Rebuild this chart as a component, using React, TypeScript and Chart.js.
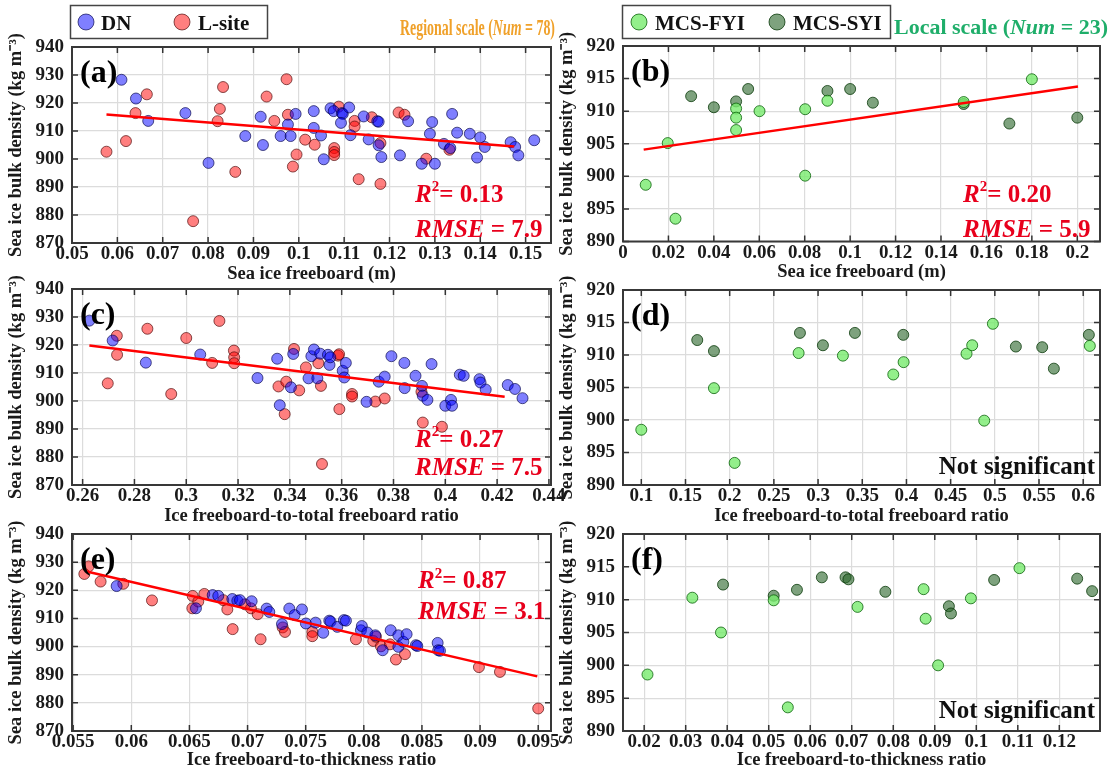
import React, { useEffect, useRef } from 'react';
import { Chart, registerables } from 'chart.js';

Chart.register(...registerables);

const FONT = "'Liberation Serif', 'Times New Roman', serif";

// ---------------- DATA ----------------
// (a) Regional: sea ice freeboard (m) vs density
const aDnX = [0.0609, 0.0641, 0.0668, 0.0750, 0.0801, 0.0882, 0.0916, 0.0921, 0.0960, 0.0976, 0.0982, 0.0993, 0.1033, 0.1033, 0.1049, 0.1055, 0.1070, 0.1077, 0.1095, 0.1097, 0.1093, 0.1111, 0.1114, 0.1143, 0.1154, 0.1173, 0.1176, 0.1176, 0.1182, 0.1223, 0.1241, 0.1271, 0.1289, 0.1294, 0.1300, 0.1320, 0.1334, 0.1338, 0.1349, 0.1377, 0.1393, 0.1400, 0.1410, 0.1467, 0.1477, 0.1484, 0.1519];
const aDnY = [928.3, 921.6, 913.6, 916.4, 898.6, 908.2, 915.1, 905.0, 908.2, 912.3, 908.2, 916.1, 917.1, 911.1, 908.4, 899.9, 918.1, 917.1, 916.4, 916.1, 912.9, 918.4, 908.5, 915.2, 907.0, 913.5, 913.3, 904.9, 900.7, 901.3, 913.5, 898.3, 909.0, 913.2, 898.3, 905.4, 903.9, 916.1, 909.4, 909.0, 900.5, 907.7, 904.3, 906.0, 904.3, 901.3, 906.7];
const aLsX = [0.0576, 0.0619, 0.0640, 0.0665, 0.0767, 0.0821, 0.0826, 0.0833, 0.0860, 0.0929, 0.0946, 0.0973, 0.0976, 0.0987, 0.0995, 0.1014, 0.1035, 0.1078, 0.1078, 0.1078, 0.1088, 0.1123, 0.1123, 0.1132, 0.1161, 0.1180, 0.1180, 0.1220, 0.1233, 0.1281, 0.1332];
const aLsY = [902.6, 906.4, 916.4, 923.1, 877.8, 913.5, 917.9, 925.7, 895.4, 922.3, 913.6, 928.5, 915.8, 897.3, 901.6, 906.9, 905.1, 903.9, 902.5, 901.4, 918.7, 913.6, 911.6, 892.8, 914.9, 905.7, 891.1, 916.6, 915.8, 900.1, 903.3];
const aFitX = [0.0576, 0.1475];
const aFitY = [915.9, 904.5];

// (b) Local: sea ice freeboard (m) vs density
const bFyiX = [0.0100, 0.0197, 0.0231, 0.0498, 0.0498, 0.0498, 0.0601, 0.0802, 0.0802, 0.0900, 0.1500, 0.1800];
const bFyiY = [898.7, 905.1, 893.5, 910.4, 909.0, 907.1, 910.0, 910.3, 900.1, 911.6, 911.4, 914.9];
const bSyiX = [0.0300, 0.0400, 0.0498, 0.0551, 0.0900, 0.1000, 0.1100, 0.1500, 0.1701, 0.2000];
const bSyiY = [912.3, 910.6, 911.5, 913.4, 913.1, 913.4, 911.3, 911.1, 908.1, 909.0];
const bFitX = [0.0091, 0.2003];
const bFitY = [904.1, 913.8];

// (c) Regional: ice freeboard-to-total freeboard ratio vs density
const cDnX = [0.2626, 0.2716, 0.2844, 0.3054, 0.3275, 0.3351, 0.3361, 0.3404, 0.3413, 0.3472, 0.3483, 0.3493, 0.3506, 0.3517, 0.3547, 0.3553, 0.3556, 0.3604, 0.3610, 0.3616, 0.3696, 0.3743, 0.3766, 0.3792, 0.3842, 0.3843, 0.3885, 0.3910, 0.3913, 0.3931, 0.3947, 0.4000, 0.4022, 0.4026, 0.4056, 0.4071, 0.4132, 0.4136, 0.4156, 0.4241, 0.4269, 0.4298];
const cDnY = [928.7, 921.6, 913.7, 916.6, 908.2, 915.1, 898.5, 904.9, 916.8, 908.1, 916.0, 918.4, 908.1, 916.9, 916.5, 912.9, 915.6, 910.8, 908.4, 913.6, 899.7, 906.9, 908.7, 916.0, 913.6, 904.6, 909.0, 905.4, 901.9, 900.4, 913.2, 898.3, 900.4, 898.3, 909.4, 909.0, 907.8, 906.6, 904.1, 905.7, 904.3, 901.0];
const cLsX = [0.2697, 0.2732, 0.2733, 0.2850, 0.2942, 0.3000, 0.3100, 0.3128, 0.3184, 0.3185, 0.3185, 0.3356, 0.3380, 0.3386, 0.3416, 0.3436, 0.3462, 0.3510, 0.3520, 0.3524, 0.3586, 0.3590, 0.3591, 0.3640, 0.3640, 0.3730, 0.3766, 0.3908, 0.3913, 0.3987];
const cLsY = [906.3, 923.3, 916.5, 925.8, 902.5, 922.5, 913.6, 928.6, 918.0, 915.6, 913.5, 905.2, 895.3, 906.9, 918.6, 903.8, 912.0, 913.5, 905.4, 877.5, 916.2, 916.7, 897.1, 902.5, 901.6, 899.8, 900.9, 903.3, 892.3, 890.8];
const cFitX = [0.2626, 0.4229];
const cFitY = [919.8, 901.5];

// (d) Local: ice freeboard-to-total freeboard ratio vs density
const dFyiX = [0.1000, 0.1822, 0.2056, 0.2780, 0.3281, 0.3851, 0.3968, 0.4680, 0.4744, 0.4880, 0.4978, 0.6075];
const dFyiY = [898.5, 904.9, 893.4, 910.3, 909.9, 907.0, 908.9, 910.2, 911.5, 899.9, 914.8, 911.4];
const dSyiX = [0.1633, 0.1822, 0.2795, 0.3055, 0.3417, 0.3964, 0.5238, 0.5536, 0.5668, 0.6064];
const dSyiY = [912.3, 910.6, 913.4, 911.5, 913.4, 913.1, 911.3, 911.2, 907.9, 913.1];

// (e) Regional: ice freeboard-to-thickness ratio vs density
const eDnX = [0.05874, 0.06556, 0.06700, 0.06748, 0.06869, 0.06912, 0.06935, 0.07035, 0.07164, 0.07187, 0.07296, 0.07359, 0.07405, 0.07468, 0.07502, 0.07585, 0.07651, 0.07703, 0.07714, 0.07772, 0.07829, 0.07846, 0.07975, 0.07983, 0.08030, 0.08099, 0.08162, 0.08231, 0.08297, 0.08297, 0.08340, 0.08368, 0.08448, 0.08460, 0.08635, 0.08640, 0.08655];
const eDnY = [921.5, 913.6, 918.3, 918.0, 916.9, 916.3, 916.5, 916.1, 913.5, 912.3, 908.0, 913.5, 911.2, 913.2, 908.2, 908.5, 904.9, 909.2, 908.9, 907.0, 909.4, 909.2, 905.8, 907.3, 905.0, 904.0, 898.7, 905.8, 904.0, 899.9, 901.7, 904.4, 900.5, 900.2, 901.3, 898.7, 898.5];
const eLsX = [0.05596, 0.05633, 0.05736, 0.05931, 0.06178, 0.06528, 0.06525, 0.06576, 0.06628, 0.06791, 0.06826, 0.06872, 0.06978, 0.07029, 0.07087, 0.07112, 0.07302, 0.07322, 0.07557, 0.07557, 0.07932, 0.08081, 0.08104, 0.08147, 0.08225, 0.08276, 0.08354, 0.08990, 0.09171, 0.09500];
const eLsY = [925.8, 928.5, 923.1, 922.3, 916.4, 918.0, 913.6, 916.0, 918.7, 916.5, 913.2, 906.2, 915.0, 913.6, 911.5, 902.6, 906.8, 905.2, 905.2, 903.7, 902.6, 902.0, 903.5, 900.1, 900.8, 895.4, 897.3, 892.7, 891.0, 878.0];
const eFitX = [0.05616, 0.09492];
const eFitY = [926.7, 889.4];

// (f) Local: ice freeboard-to-thickness ratio vs density
const fFyiX = [0.0208, 0.0316, 0.0385, 0.0512, 0.0546, 0.0714, 0.0873, 0.0878, 0.0908, 0.0987, 0.1104];
const fFyiY = [898.6, 910.3, 905.0, 909.9, 893.6, 908.9, 911.6, 907.1, 900.0, 910.2, 914.8];
const fSyiX = [0.0390, 0.0512, 0.0568, 0.0628, 0.0685, 0.0692, 0.0781, 0.0934, 0.0939, 0.1043, 0.1243, 0.1279];
const fSyiY = [912.3, 910.6, 911.5, 913.4, 913.4, 913.1, 911.2, 909.0, 907.9, 913.0, 913.2, 911.3];

// ticks
const yTicksRegional = [870, 880, 890, 900, 910, 920, 930, 940];
const yLabelsRegional = ['870', '880', '890', '900', '910', '920', '930', '940'];
const yTicksLocal = [890, 895, 900, 905, 910, 915, 920];
const yLabelsLocal = ['890', '895', '900', '905', '910', '915', '920'];
const aTicks = [0.05, 0.06, 0.07, 0.08, 0.09, 0.1, 0.11, 0.12, 0.13, 0.14, 0.15];
const aLabels = ['0.05', '0.06', '0.07', '0.08', '0.09', '0.1', '0.11', '0.12', '0.13', '0.14', '0.15'];
const bTicks = [0, 0.02, 0.04, 0.06, 0.08, 0.1, 0.12, 0.14, 0.16, 0.18, 0.2];
const bLabels = ['0', '0.02', '0.04', '0.06', '0.08', '0.1', '0.12', '0.14', '0.16', '0.18', '0.2'];
const cTicks = [0.26, 0.28, 0.3, 0.32, 0.34, 0.36, 0.38, 0.4, 0.42, 0.44];
const cLabels = ['0.26', '0.28', '0.3', '0.32', '0.34', '0.36', '0.38', '0.4', '0.42', '0.44'];
const dTicks = [0.1, 0.15, 0.2, 0.25, 0.3, 0.35, 0.4, 0.45, 0.5, 0.55, 0.6];
const dLabels = ['0.1', '0.15', '0.2', '0.25', '0.3', '0.35', '0.4', '0.45', '0.5', '0.55', '0.6'];
const eTicks = [0.055, 0.06, 0.065, 0.07, 0.075, 0.08, 0.085, 0.09, 0.095];
const eLabels = ['0.055', '0.06', '0.065', '0.07', '0.075', '0.08', '0.085', '0.09', '0.095'];
const fTicks = [0.02, 0.03, 0.04, 0.05, 0.06, 0.07, 0.08, 0.09, 0.1, 0.11, 0.12];
const fLabels = ['0.02', '0.03', '0.04', '0.05', '0.06', '0.07', '0.08', '0.09', '0.1', '0.11', '0.12'];

const legendRegional = ['DN', 'L-site'];
const legendLocal = ['MCS-FYI', 'MCS-SYI'];
const yTitle = 'Sea ice bulk density (kg m\u207B\u00B3)';

// ---------------- STYLES ----------------
const DN = { fill: 'rgba(0,0,255,0.5)', stroke: 'rgba(0,0,70,0.65)' };
const LS = { fill: 'rgba(255,0,0,0.5)', stroke: 'rgba(70,0,0,0.65)' };
const FYI = { fill: 'rgba(120,235,110,0.8)', stroke: 'rgba(0,90,0,0.75)' };
const SYI = { fill: 'rgba(40,100,40,0.6)', stroke: 'rgba(0,50,0,0.75)' };
const STAT_RED = '#e8001c';

type Part = { t: string; it?: boolean; sup?: boolean };

function drawRich(ctx: CanvasRenderingContext2D, parts: Part[], x: number, y: number, size: number, color: string, align: 'left' | 'right' = 'left', fitWidth?: number) {
  ctx.save();
  ctx.fillStyle = color;
  ctx.textBaseline = 'alphabetic';
  ctx.textAlign = 'left';
  const fonts = parts.map(p => `${p.it ? 'italic ' : ''}bold ${p.sup ? Math.round(size * 0.6) : size}px ${FONT}`);
  const widths = parts.map((p, i) => { ctx.font = fonts[i]; return ctx.measureText(p.t).width; });
  const total = widths.reduce((a, b) => a + b, 0);
  const sx = fitWidth ? fitWidth / total : 1;
  const start = align === 'right' ? x - total * sx : x;
  ctx.translate(start, y);
  ctx.scale(sx, 1);
  let cx = 0;
  parts.forEach((p, i) => {
    ctx.font = fonts[i];
    ctx.fillText(p.t, cx, p.sup ? -size * 0.42 : 0);
    cx += widths[i];
  });
  ctx.restore();
}

function drawLegend(ctx: CanvasRenderingContext2D, box: number[], items: { cx: number; tx: number; label: string; style: { fill: string; stroke: string } }[]) {
  ctx.save();
  ctx.fillStyle = '#fff';
  ctx.fillRect(box[0], box[1], box[2], box[3]);
  ctx.lineWidth = 1.5;
  ctx.strokeStyle = '#444';
  ctx.strokeRect(box[0], box[1], box[2], box[3]);
  const cy = box[1] + box[3] / 2;
  items.forEach(it => {
    ctx.beginPath();
    ctx.arc(it.cx, cy, 8, 0, Math.PI * 2);
    ctx.fillStyle = it.style.fill;
    ctx.fill();
    ctx.lineWidth = 1;
    ctx.strokeStyle = it.style.stroke;
    ctx.stroke();
    ctx.fillStyle = '#111';
    ctx.font = `bold 21px ${FONT}`;
    ctx.textBaseline = 'alphabetic';
    ctx.textAlign = 'left';
    ctx.fillText(it.label, it.tx, cy + 7.5);
  });
  ctx.restore();
}

type Panel = {
  letter: string;
  plot: { left: number; top: number; right: number; bottom: number };
  xh: number;
  xMin: number; xMax: number; xTicks: number[]; xLabels: string[]; xTitle: string;
  yMin: number; yMax: number; yTicks: number[]; yLabels: string[];
  series: { x: number[]; y: number[]; style: { fill: string; stroke: string } }[];
  fit?: { x: number[]; y: number[] };
  stats?: { r2: string; rmse: string; x: number; y1: number; y2: number };
  note?: { x: number; y: number };
  extra?: (ctx: CanvasRenderingContext2D) => void;
};

const L = { left: 72, right: 551 };
const R = { left: 623, right: 1100 };

const PANELS: Panel[] = [
  {
    letter: '(a)', plot: { ...L, top: 47, bottom: 243 }, xh: 46,
    xMin: 0.05, xMax: 0.1556, xTicks: aTicks, xLabels: aLabels, xTitle: 'Sea ice freeboard (m)',
    yMin: 870, yMax: 940, yTicks: yTicksRegional, yLabels: yLabelsRegional,
    series: [{ x: aDnX, y: aDnY, style: DN }, { x: aLsX, y: aLsY, style: LS }],
    fit: { x: aFitX, y: aFitY },
    stats: { r2: '0.13', rmse: '7.9', x: 415, y1: 201.5, y2: 237 },
    extra: (ctx) => {
      drawLegend(ctx, [70.5, 5.5, 197, 33], [
        { cx: 86, tx: 101, label: legendRegional[0], style: DN },
        { cx: 182, tx: 198, label: legendRegional[1], style: LS },
      ]);
      drawRich(ctx, [{ t: 'Regional scale (' }, { t: 'Num', it: true }, { t: ' = 78)' }], 400, 35, 24, '#f0a12a', 'left', 155);
    },
  },
  {
    letter: '(b)', plot: { ...R, top: 46, bottom: 241.5 }, xh: 46,
    xMin: 0, xMax: 0.21, xTicks: bTicks, xLabels: bLabels, xTitle: 'Sea ice freeboard (m)',
    yMin: 890, yMax: 920, yTicks: yTicksLocal, yLabels: yLabelsLocal,
    series: [{ x: bFyiX, y: bFyiY, style: FYI }, { x: bSyiX, y: bSyiY, style: SYI }],
    fit: { x: bFitX, y: bFitY },
    stats: { r2: '0.20', rmse: '5.9', x: 963, y1: 201.5, y2: 237 },
    extra: (ctx) => {
      drawLegend(ctx, [622.5, 5.5, 268, 33], [
        { cx: 639, tx: 655, label: legendLocal[0], style: FYI },
        { cx: 777, tx: 793, label: legendLocal[1], style: SYI },
      ]);
      drawRich(ctx, [{ t: 'Local scale (' }, { t: 'Num', it: true }, { t: ' = 23)' }], 894, 34, 22, '#1fae6a', 'left', 214);
    },
  },
  {
    letter: '(c)', plot: { ...L, top: 289, bottom: 485 }, xh: 46,
    xMin: 0.2559, xMax: 0.4408, xTicks: cTicks, xLabels: cLabels, xTitle: 'Ice freeboard-to-total freeboard ratio',
    yMin: 870, yMax: 940, yTicks: yTicksRegional, yLabels: yLabelsRegional,
    series: [{ x: cDnX, y: cDnY, style: DN }, { x: cLsX, y: cLsY, style: LS }],
    fit: { x: cFitX, y: cFitY },
    stats: { r2: '0.27', rmse: '7.5', x: 415, y1: 446.5, y2: 475 },
  },
  {
    letter: '(d)', plot: { ...R, top: 290, bottom: 485 }, xh: 46,
    xMin: 0.0793, xMax: 0.619, xTicks: dTicks, xLabels: dLabels, xTitle: 'Ice freeboard-to-total freeboard ratio',
    yMin: 890, yMax: 920, yTicks: yTicksLocal, yLabels: yLabelsLocal,
    series: [{ x: dFyiX, y: dFyiY, style: FYI }, { x: dSyiX, y: dSyiY, style: SYI }],
    note: { x: 1095, y: 474 },
  },
  {
    letter: '(e)', plot: { ...L, top: 534, bottom: 731 }, xh: 44,
    xMin: 0.0549, xMax: 0.0961, xTicks: eTicks, xLabels: eLabels, xTitle: 'Ice freeboard-to-thickness ratio',
    yMin: 870, yMax: 940, yTicks: yTicksRegional, yLabels: yLabelsRegional,
    series: [{ x: eDnX, y: eDnY, style: DN }, { x: eLsX, y: eLsY, style: LS }],
    fit: { x: eFitX, y: eFitY },
    stats: { r2: '0.87', rmse: '3.1', x: 418, y1: 588, y2: 619 },
  },
  {
    letter: '(f)', plot: { ...R, top: 534, bottom: 731 }, xh: 44,
    xMin: 0.0149, xMax: 0.1298, xTicks: fTicks, xLabels: fLabels, xTitle: 'Ice freeboard-to-thickness ratio',
    yMin: 890, yMax: 920, yTicks: yTicksLocal, yLabels: yLabelsLocal,
    series: [{ x: fFyiX, y: fFyiY, style: FYI }, { x: fSyiX, y: fSyiY, style: SYI }],
    note: { x: 1095, y: 718 },
  },
];

const YW = 71;

function decorPlugin(p: Panel) {
  return {
    id: 'decor' + p.letter,
    afterDraw(chart: any) {
      const { ctx, chartArea: ca, scales } = chart;
      const xs = scales.x, ys = scales.y;
      ctx.save();
      // inward ticks
      ctx.strokeStyle = '#333';
      ctx.lineWidth = 1.5;
      const tl = 6;
      ctx.beginPath();
      p.xTicks.forEach(v => {
        const px = xs.getPixelForValue(v);
        ctx.moveTo(px, ca.bottom); ctx.lineTo(px, ca.bottom - tl);
        ctx.moveTo(px, ca.top); ctx.lineTo(px, ca.top + tl);
      });
      p.yTicks.forEach(v => {
        const py = ys.getPixelForValue(v);
        ctx.moveTo(ca.left, py); ctx.lineTo(ca.left + tl, py);
        ctx.moveTo(ca.right, py); ctx.lineTo(ca.right - tl, py);
      });
      ctx.stroke();
      // box
      ctx.lineWidth = 2;
      ctx.strokeStyle = '#383838';
      ctx.strokeRect(ca.left, ca.top, ca.right - ca.left, ca.bottom - ca.top);
      // letter
      ctx.fillStyle = '#000';
      ctx.font = `bold 32px ${FONT}`;
      ctx.textAlign = 'left';
      ctx.textBaseline = 'alphabetic';
      ctx.fillText(p.letter, ca.left + 8, ca.top + 35);
      ctx.restore();
      if (p.stats) {
        drawRich(ctx, [{ t: 'R', it: true }, { t: '2', sup: true }, { t: '= ' + p.stats.r2 }], p.stats.x, p.stats.y1, 25, STAT_RED);
        drawRich(ctx, [{ t: 'RMSE', it: true }, { t: ' = ' + p.stats.rmse }], p.stats.x, p.stats.y2, 25, STAT_RED);
      }
      if (p.note) {
        drawRich(ctx, [{ t: 'Not significant' }], p.note.x, p.note.y, 25, '#111', 'right');
      }
      if (p.extra) p.extra(ctx);
    },
  };
}

function makeConfig(p: Panel): any {
  const datasets: any[] = [];
  if (p.fit) {
    datasets.push({
      type: 'line',
      data: p.fit.x.map((x, i) => ({ x, y: p.fit!.y[i] })),
      borderColor: '#ff0000',
      borderWidth: 2.5,
      pointRadius: 0,
      fill: false,
      order: 0,
    });
  }
  p.series.forEach((s, k) => {
    datasets.push({
      type: 'scatter',
      data: s.x.map((x, i) => ({ x, y: s.y[i] })),
      backgroundColor: s.style.fill,
      borderColor: s.style.stroke,
      borderWidth: 1,
      pointRadius: 5.5,
      order: 1 + k,
    });
  });
  const tickFont = { family: FONT, size: 19, weight: 'bold' as const };
  const titleFont = { family: FONT, size: 18.5, weight: 'bold' as const };
  return {
    type: 'scatter',
    data: { datasets },
    options: {
      responsive: false,
      animation: false,
      events: [],
      layout: {
        padding: {
          left: p.plot.left - YW,
          top: p.plot.top,
          right: 1116 - p.plot.right,
          bottom: 775 - p.plot.bottom - p.xh,
        },
      },
      plugins: { legend: { display: false }, tooltip: { enabled: false } },
      scales: {
        x: {
          type: 'linear',
          min: p.xMin,
          max: p.xMax,
          afterBuildTicks: (s: any) => { s.ticks = p.xTicks.map(v => ({ value: v })); },
          afterFit: (s: any) => { s.height = p.xh; },
          ticks: {
            autoSkip: false, maxRotation: 0, minRotation: 0, padding: 0,
            color: '#1a1a1a', font: tickFont,
            callback: (_v: any, i: number) => p.xLabels[i],
          },
          grid: { color: '#dcdcdc', lineWidth: 1.2, drawTicks: false },
          border: { display: false },
          title: { display: true, text: p.xTitle, color: '#1a1a1a', font: titleFont, padding: { top: 4, bottom: 4 } },
        },
        y: {
          type: 'linear',
          min: p.yMin,
          max: p.yMax,
          afterBuildTicks: (s: any) => { s.ticks = p.yTicks.map(v => ({ value: v })); },
          afterFit: (s: any) => { s.width = YW; },
          ticks: {
            autoSkip: false, padding: 8,
            color: '#1a1a1a', font: tickFont,
            callback: (_v: any, i: number) => p.yLabels[i],
          },
          grid: { color: '#dcdcdc', lineWidth: 1.2, drawTicks: false },
          border: { display: false },
          title: { display: true, text: yTitle, color: '#1a1a1a', font: titleFont, padding: { top: 4, bottom: 4 } },
        },
      },
    },
    plugins: [decorPlugin(p)],
  };
}

function PanelCanvas({ p }: { p: Panel }) {
  const ref = useRef<HTMLCanvasElement>(null);
  useEffect(() => {
    if (!ref.current) return;
    const chart = new Chart(ref.current, makeConfig(p));
    return () => chart.destroy();
  }, [p]);
  return (
    <canvas
      ref={ref}
      width={1116}
      height={775}
      style={{ position: 'absolute', left: 0, top: 0, width: 1116, height: 775 }}
    />
  );
}

export default function App() {
  return (
    <div style={{ position: 'absolute', left: 0, top: 0, width: 1116, height: 775, background: '#fff', overflow: 'hidden' }}>
      {PANELS.map(p => <PanelCanvas key={p.letter} p={p} />)}
    </div>
  );
}
